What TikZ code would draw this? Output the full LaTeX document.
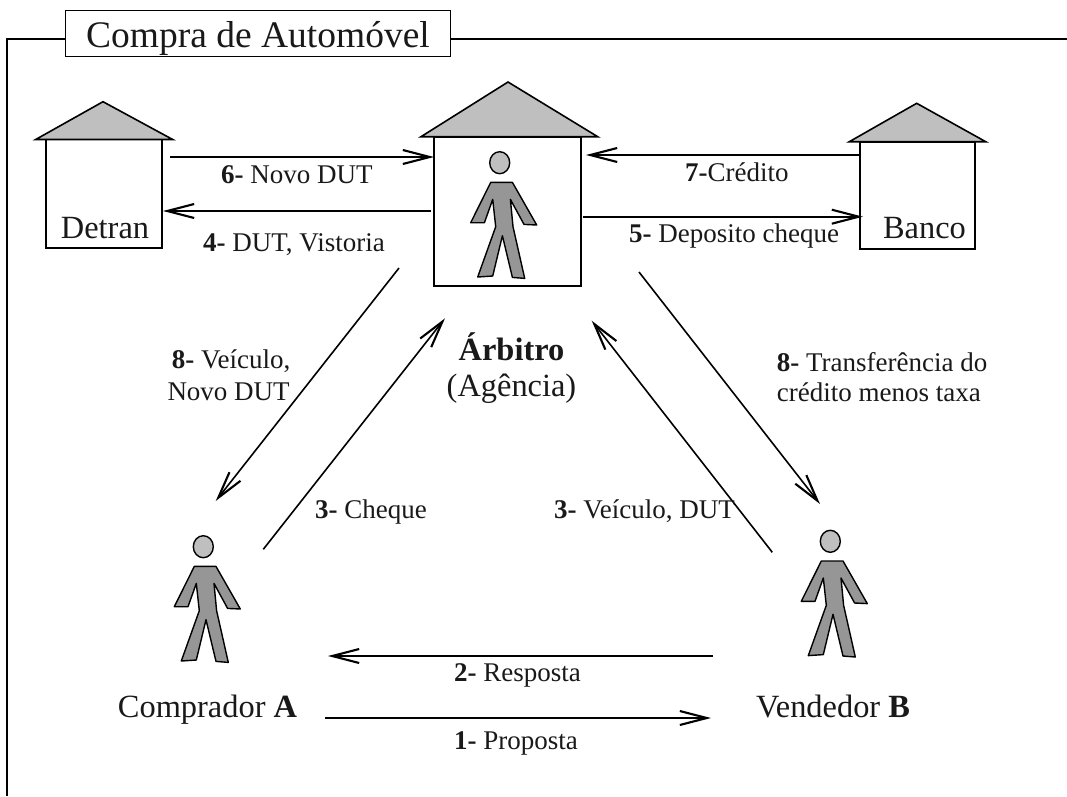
\documentclass[tikz,border=0pt]{standalone}
\usepackage{fontspec}
\setmainfont{Liberation Serif}
\usetikzlibrary{arrows.meta}
\tikzset{
  x=1pt,y=-1pt,
  flow/.style={draw=black,line width=1.6pt,-{Straight Barb[length=27pt,width=14pt,line width=2.1pt]}},
  roof/.style={draw=black,fill=black!25,line width=1.6pt,line join=miter},
  hbox/.style={draw=black,fill=white,line width=1.6pt},
  bodyshape/.style={draw=black,fill=black!41,line width=1.4pt,line join=round},
  headshape/.style={draw=black,fill=black!25,line width=1.4pt},
  lab/.style={anchor=base west,inner sep=0pt,font=\fontsize{27}{32}\selectfont,text=black!90},
  big/.style={anchor=base,inner sep=0pt,font=\fontsize{32.4}{38}\selectfont,text=black!90},
  person/.pic={
    \draw[headshape] (0,0) ellipse [x radius=10,y radius=11];
    \draw[bodyshape] (-9,19.7)--(12.7,19.7)--(37,62.3)--(24.3,61.7)--(10.7,36.7)--(13.3,64)--(25,115.7)--(12.7,114.7)--(2.7,73)--(-7,113.3)--(-22,114.3)--(-4,64)--(-7,36.7)--(-15.3,60)--(-29,60)--cycle;
  }
}
\begin{document}
\begin{tikzpicture}
\useasboundingbox (0,0) rectangle (1067,796);
\fill[white] (0,0) rectangle (1067,796);
% frame
\coordinate (fbl) at (7,796);
\coordinate (ftl) at (7,39);
\coordinate (fr) at (1067,39);
\node[draw=black,line width=0.9pt,anchor=base,minimum width=384.6pt,text height=37.7pt,text depth=8.3pt,inner sep=0pt,font=\fontsize{37.5}{44}\selectfont,text=black!90] (title) at (258,47.7) {Compra de Automóvel};
\draw[line width=1.6pt] (fbl) -- (ftl) -- (title.west |- ftl);
\draw[line width=1.6pt] (title.east |- fr) -- (fr);
% Detran
\draw[hbox] (46,139.5) rectangle (162,248);
\draw[roof] (103,101.7) -- (172.7,139.5) -- (35.7,139.5) -- cycle;
\node[big] (detran) at (105,238) {Detran};
% Arbitro
\draw[hbox] (434,136.7) rectangle (580.7,286);
\draw[roof] (508,82) -- (597.7,136.7) -- (421,136.7) -- cycle;
\pic at (499.7,162.7) {person};
% Banco
\draw[hbox] (860,141.7) rectangle (975,248.7);
\draw[roof] (916.7,103.3) -- (985.7,141.7) -- (849.3,141.7) -- cycle;
\node[big] (banco) at (924.5,238) {Banco};
% people
\pic at (203.3,546.7) {person};
\pic at (830.3,541.3) {person};
\node[big] (arb1) at (511.5,360) {\textbf{Árbitro}};
\node[big] (arb2) at (511.5,396.7) {(Agência)};
\node[big] (compA) at (207.5,717.7) {Comprador \textbf{A}};
\node[big] (vendB) at (833,717.7) {Vendedor \textbf{B}};
% arrows
\coordinate (a6s) at (170,157); \coordinate (a6e) at (434,157);
\coordinate (a4s) at (431,211); \coordinate (a4e) at (163,211);
\coordinate (a7s) at (860,155); \coordinate (a7e) at (586,155);
\coordinate (a5s) at (583,216.7); \coordinate (a5e) at (863,216.7);
\coordinate (a8ls) at (399,268); \coordinate (a8le) at (215.7,501);
\coordinate (a3ls) at (263.3,549.3); \coordinate (a3le) at (445,318.3);
\coordinate (a8rs) at (639,272); \coordinate (a8re) at (820,504);
\coordinate (a3rs) at (772.3,552.3); \coordinate (a3re) at (591.7,320.7);
\coordinate (a2s) at (713,656); \coordinate (a2e) at (328,656);
\coordinate (a1s) at (325,718); \coordinate (a1e) at (711,718);
\foreach \n in {6,4,7,5,8l,3l,8r,3r,2,1} \draw[flow] (a\n s) -- (a\n e);
% labels
\node[lab] (l6) at (221,183.3) {\textbf{6-} Novo DUT};
\node[lab] (l4) at (203,251.7) {\textbf{4-} DUT, Vistoria};
\node[lab] (l7) at (685,181) {\textbf{7-}Crédito};
\node[lab] (l5) at (629,242) {\textbf{5-} Deposito cheque};
\node[lab] (l8a) at (171.7,368.3) {\textbf{8-} Veículo,};
\node[lab] (l8b) at (167.3,400) {Novo DUT};
\node[lab] (l8c) at (776.7,371) {\textbf{8-} Transferência do};
\node[lab] (l8d) at (776.7,401.7) {crédito menos taxa};
\node[lab] (l3a) at (315,518.3) {\textbf{3-} Cheque};
\node[lab] (l3b) at (554,518.7) {\textbf{3-} Veículo, DUT};
\node[lab] (l2) at (454,681.7) {\textbf{2-} Resposta};
\node[lab] (l1) at (454,749.3) {\textbf{1-} Proposta};
\end{tikzpicture}
\end{document}
